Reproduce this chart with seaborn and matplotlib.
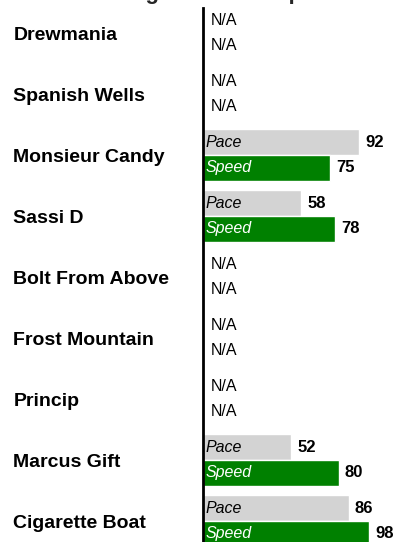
import matplotlib
matplotlib.use("Agg")
import matplotlib.pyplot as plt
import numpy as np
import pandas as pd
import seaborn as sns

# Ratings per horse (None = no rating available)
horses = ["Drewmania", "Spanish Wells", "Monsieur Candy", "Sassi D",
          "Bolt From Above", "Frost Mountain", "Princip", "Marcus Gift",
          "Cigarette Boat"]
pace = [None, None, 92, 58, None, None, None, 52, 86]
speed = [None, None, 75, 78, None, None, None, 80, 98]
metrics = ["Pace", "Speed"]
title = "Ratings: Pace vs Speed"

colors = {"Pace": "#d3d3d3", "Speed": "#008000"}
label_colors = {"Pace": "black", "Speed": "white"}

sns.set_theme(style="white")
plt.rcParams["font.family"] = ["Liberation Sans", "DejaVu Sans"]

df = pd.DataFrame({
    "horse": horses * 2,
    "metric": ["Pace"] * len(horses) + ["Speed"] * len(horses),
    "value": pace + speed,
}).dropna()

W, H = 416, 542
fig = plt.figure(figsize=(W / 100, H / 100), dpi=100)
ax = fig.add_axes([203 / W, 0, (W - 203) / W, (H - 8) / H])

bar_width = 0.85
sns.barplot(data=df, y="horse", x="value", hue="metric", order=horses,
            hue_order=metrics, palette=colors, orient="h", width=bar_width,
            errorbar=None, saturation=1, legend=False, ax=ax)

ax.set_xlim(0, 125.5)
ax.set_ylim(8.344, -0.41)
ax.set_xlabel("")
ax.set_ylabel("")
ax.set_xticks([])
for side in ("top", "right", "bottom"):
    ax.spines[side].set_visible(False)
ax.spines["left"].set_linewidth(2)
ax.spines["left"].set_color("black")
ax.spines["left"].set_zorder(5)

ax.tick_params(axis="y", length=0, pad=136.6)
for lab in ax.get_yticklabels():
    lab.set_horizontalalignment("left")
    lab.set_fontweight("bold")
    lab.set_fontsize(14)
    lab.set_color("black")

# value and metric labels on each bar
for container, m in zip(ax.containers, metrics):
    for bar in container:
        w = bar.get_width()
        if not np.isfinite(w):
            continue
        yc = bar.get_y() + bar.get_height() / 2
        ax.annotate(f"{w:.0f}", (w, yc), xytext=(4.3, 0),
                    textcoords="offset points", ha="left", va="center",
                    fontsize=12, fontweight="bold", color="black")
        ax.annotate(m, (0, yc), xytext=(2, 0), textcoords="offset points",
                    ha="left", va="center", fontsize=11.5, style="italic",
                    color=label_colors[m], zorder=6)

# N/A markers for horses without ratings
for i, (h, p, s) in enumerate(zip(horses, pace, speed)):
    for j, v in enumerate((p, s)):
        if v is None:
            yc = i + (j - 0.5) * bar_width / 2
            ax.annotate("N/A", (0, yc), xytext=(5.6, 0),
                        textcoords="offset points", ha="left", va="center",
                        fontsize=11.5, color="black")

fig.text(215 / W, 1 + 0.6 / H, title, ha="center", va="baseline",
         fontsize=16, fontweight="bold")

fig.savefig("out.png", dpi=100)
